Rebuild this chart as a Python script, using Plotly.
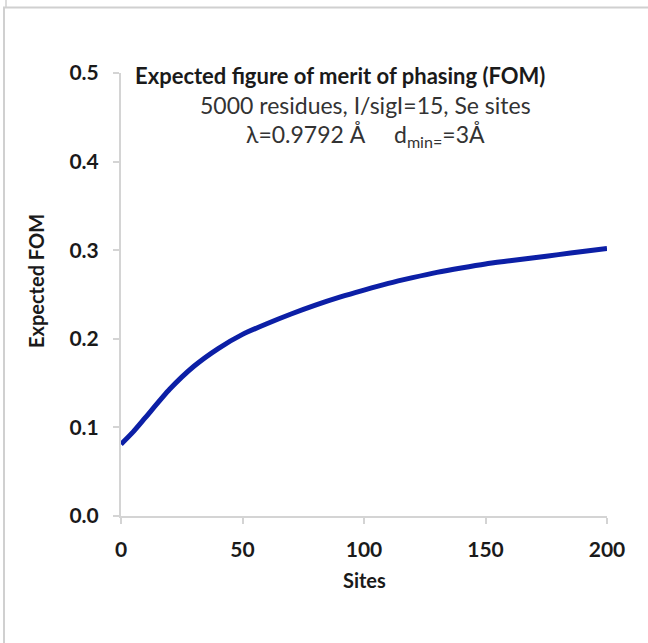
import plotly.graph_objects as go

# Expected FOM versus number of Se sites
sites = [0, 5, 10, 20, 30, 40, 50, 60, 70, 80, 90, 100,
         110, 120, 130, 140, 150, 160, 170, 180, 190, 200]
expected_fom = [0.081, 0.095, 0.111, 0.143, 0.169, 0.189, 0.205, 0.217, 0.228, 0.238, 0.247, 0.255,
                0.2625, 0.269, 0.275, 0.280, 0.2845, 0.288, 0.2915, 0.295, 0.2985, 0.302]

x_ticks = [0, 50, 100, 150, 200]
y_ticks = [0.0, 0.1, 0.2, 0.3, 0.4, 0.5]
y_tick_text = ["0.0", "0.1", "0.2", "0.3", "0.4", "0.5"]

title_main = "<b>Expected figure of merit of phasing (FOM)</b>"
title_sub = [
    "5000 residues, I/sigI=15, Se sites",
    "λ=0.9792 Å\u00a0\u00a0\u00a0\u00a0 d<sub>min=</sub>=3Å",
]

FONT = "Lato, 'Open Sans', sans-serif"
AXIS_GREY = "#d4d4d4"
TEXT = "#1a1a1a"

fig = go.Figure()
fig.add_trace(go.Scatter(
    x=sites, y=expected_fom, mode="lines",
    line=dict(color="#0c1fa6", width=5, shape="spline", smoothing=0.6),
    showlegend=False, hoverinfo="skip",
))

W, H = 648, 643
L, R, T, B = 121, 41, 73, 127
plot_h = H - T - B


def py(pixel_y):
    """Convert a pixel row to paper y."""
    return (H - B - pixel_y) / plot_h


def px(pixel_x):
    return (pixel_x - L) / (W - L - R)


tick_font = dict(size=21, family=FONT, weight="bold", color=TEXT)

fig.update_layout(
    width=W, height=H,
    margin=dict(l=L, r=R, t=T, b=B),
    paper_bgcolor="white", plot_bgcolor="white",
    font=dict(family=FONT, color=TEXT),
    xaxis=dict(
        range=[0, 200], tickvals=x_ticks, ticktext=[str(v) for v in x_ticks],
        showgrid=False, zeroline=False, showline=True, linecolor=AXIS_GREY, linewidth=2,
        ticks="outside", ticklen=6, tickcolor=AXIS_GREY, tickwidth=2,
        tickfont=tick_font, ticklabelstandoff=8,
    ),
    yaxis=dict(
        range=[0, 0.5], tickvals=y_ticks, ticktext=y_tick_text,
        showgrid=False, zeroline=False, showline=True, linecolor=AXIS_GREY, linewidth=2,
        ticks="outside", ticklen=6, tickcolor=AXIS_GREY, tickwidth=2,
        tickfont=tick_font, ticklabelstandoff=10,
    ),
)

# axis titles
fig.add_annotation(
    text="<b>Sites</b>", xref="paper", yref="paper",
    x=px(364), y=py(580), showarrow=False, xanchor="center", yanchor="middle",
    font=dict(size=20, family=FONT, color=TEXT),
)
fig.add_annotation(
    text="<b>Expected FOM</b>", xref="paper", yref="paper",
    x=px(36), y=py(281), textangle=-90, showarrow=False,
    xanchor="center", yanchor="middle",
    font=dict(size=20, family=FONT, color=TEXT),
)

# title block
fig.add_annotation(
    text=title_main, xref="paper", yref="paper", x=px(340), y=py(75),
    showarrow=False, xanchor="center", yanchor="middle",
    font=dict(size=22, family=FONT, color=TEXT),
)
for text, row in zip(title_sub, [105, 135]):
    fig.add_annotation(
        text=text, xref="paper", yref="paper", x=px(365), y=py(row),
        showarrow=False, xanchor="center", yanchor="middle",
        font=dict(size=23, family=FONT, color="#333333"),
    )

# chart-area frame
fig.add_shape(
    type="rect", xref="paper", yref="paper",
    x0=px(4), x1=px(680), y0=py(680), y1=py(7.5),
    line=dict(color="#d0d0d0", width=2), fillcolor="rgba(0,0,0,0)", layer="below",
)
fig.add_shape(
    type="line", xref="paper", yref="paper",
    x0=px(6), x1=px(6), y0=py(0), y1=py(7),
    line=dict(color="#d0d0d0", width=1.5),
)

fig.write_html("out.html")
